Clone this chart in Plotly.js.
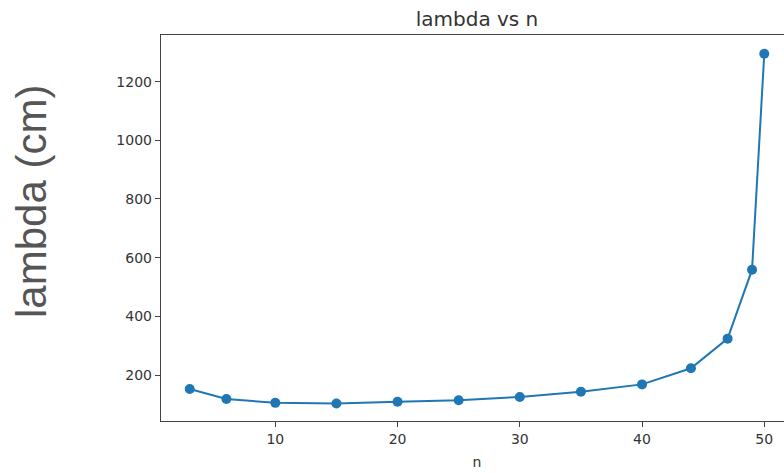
<!DOCTYPE html>
<html>
<head>
<meta charset="utf-8">
<script src="https://cdn.plot.ly/plotly-3.0.1.min.js"></script>
<style>
html, body { margin: 0; padding: 0; overflow: hidden; background: #fff; width: 784px; height: 473px; }
#chart { width: 810px; height: 473px; }
</style>
</head>
<body>
<div id="chart"></div>
<script>
const nValues = [3, 6, 10, 15, 20, 25, 30, 35, 40, 44, 47, 49, 50];
const lambdaValues = [152, 118, 105, 103, 109, 114, 125, 143, 168, 223, 324, 559, 1295];
const xTicks = [10, 20, 30, 40, 50];
const yTicks = [200, 400, 600, 800, 1000, 1200];

const trace = {
  x: nValues,
  y: lambdaValues,
  type: 'scatter',
  mode: 'lines+markers',
  line: { color: '#1f77b4', width: 2 },
  marker: { color: '#1f77b4', size: 10 },
  hoverinfo: 'skip'
};

const axisCommon = {
  showgrid: false,
  zeroline: false,
  showline: true,
  mirror: true,
  linecolor: '#444',
  linewidth: 1.2,
  ticks: 'outside',
  ticklen: 5,
  tickwidth: 1,
  tickcolor: '#444',
  tickfont: { family: 'DejaVu Sans', size: 14, color: '#333' }
};

const layout = {
  width: 810,
  height: 473,
  margin: { l: 161, r: 17, t: 35, b: 52 },
  paper_bgcolor: '#fff',
  plot_bgcolor: '#fff',
  showlegend: false,
  title: {
    text: 'lambda vs n',
    font: { family: 'DejaVu Sans', size: 20, color: '#333' },
    x: 477 / 810, xanchor: 'center', xref: 'container',
    y: 1 - 19 / 473, yanchor: 'middle', yref: 'container'
  },
  xaxis: Object.assign({}, axisCommon, {
    range: [0.65, 52.35],
    tickvals: xTicks,
    ticktext: xTicks.map(String),
    title: { text: 'n', font: { family: 'DejaVu Sans', size: 14, color: '#333' }, standoff: 11 }
  }),
  yaxis: Object.assign({}, axisCommon, {
    range: [43.2, 1359],
    tickvals: yTicks,
    ticktext: yTicks.map(String)
  }),
  annotations: [{
    text: 'lambda (cm)',
    xref: 'paper', yref: 'paper',
    x: 0, y: (421 - 202) / 386,
    xshift: -130,
    xanchor: 'center', yanchor: 'middle',
    textangle: -90,
    showarrow: false,
    font: { family: 'Liberation Sans, Arial, sans-serif', size: 42, color: '#555' }
  }]
};

Plotly.newPlot('chart', [trace], layout, { staticPlot: true, displayModeBar: false });
</script>
</body>
</html>
